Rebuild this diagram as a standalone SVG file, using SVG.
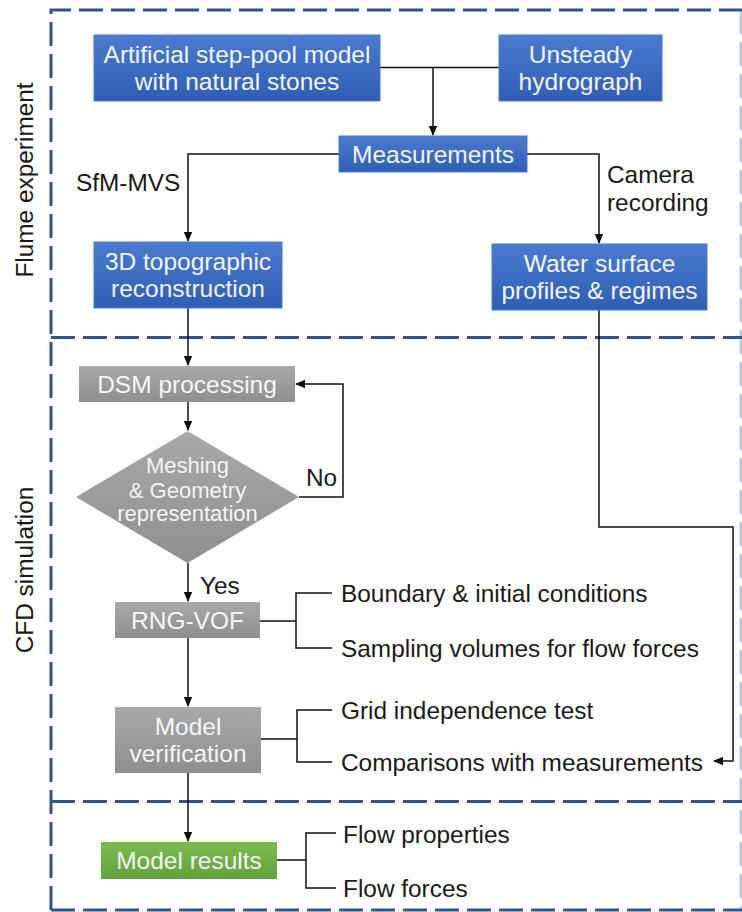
<svg xmlns="http://www.w3.org/2000/svg" width="742" height="912" viewBox="0 0 742 912">
<defs>
<linearGradient id="gBlue" x1="0" y1="0" x2="0" y2="1"><stop offset="0" stop-color="#4a7bd0"/><stop offset="1" stop-color="#2f5eb4"/></linearGradient>
<linearGradient id="gGray" x1="0" y1="0" x2="0" y2="1"><stop offset="0" stop-color="#a9a9a9"/><stop offset="1" stop-color="#8f8f8f"/></linearGradient>
<linearGradient id="gGreen" x1="0" y1="0" x2="0" y2="1"><stop offset="0" stop-color="#7dbb4f"/><stop offset="1" stop-color="#62a33a"/></linearGradient>
<marker id="arr" markerWidth="10" markerHeight="10" refX="9" refY="5" orient="auto" markerUnits="userSpaceOnUse"><path d="M0,0.8 L10,5 L0,9.2 Z" fill="#111"/></marker>
<style>
.frame{fill:none;stroke:#2f5490;stroke-width:3;stroke-dasharray:24 8}
.blue{fill:url(#gBlue);stroke:#4a7bd0;stroke-width:1}
.gray{fill:url(#gGray)}
.green{fill:url(#gGreen)}
.bt{font-family:"Liberation Sans",Arial,sans-serif;font-size:24.5px;fill:#f4f6fb;text-anchor:middle}
.dt{font-family:"Liberation Sans",Arial,sans-serif;font-size:22px;fill:#f4f4f4;text-anchor:middle}
.lt{font-family:"Liberation Sans",Arial,sans-serif;font-size:24.4px;fill:#1a1a1a}
.ln{fill:none;stroke:#111;stroke-width:1.5}
</style>
</defs>
<g id="frame">
<path class="frame" d="M51,910 V10 H742"/>
<path class="frame" d="M51,337.5 H742"/>
<path class="frame" d="M51,801.5 H742"/>
<path class="frame" d="M51,910 H742"/>
<path class="frame" d="M741,10 V910" stroke-opacity="0.3"/>
<text class="lt" transform="translate(33,180) rotate(-90)" text-anchor="middle">Flume experiment</text>
<text class="lt" transform="translate(33,570) rotate(-90)" text-anchor="middle">CFD simulation</text>
</g>
<g id="connectors">
<path class="ln" d="M380,67.5 H499"/>
<path class="ln" d="M433,67.5 V135" marker-end="url(#arr)"/>
<path class="ln" d="M339,154 H188 V241" marker-end="url(#arr)"/>
<path class="ln" d="M527,154 H599 V243" marker-end="url(#arr)"/>
<path class="ln" d="M188,308 V365" marker-end="url(#arr)"/>
<path class="ln" d="M599,310 V527 H733 V761 H714" marker-end="url(#arr)"/>
<path class="ln" d="M188,402 V430" marker-end="url(#arr)"/>
<path class="ln" d="M299,497 H343 V384 H296" marker-end="url(#arr)"/>
<path class="ln" d="M188,563 V601" marker-end="url(#arr)"/>
<path class="ln" d="M188,638 V706" marker-end="url(#arr)"/>
<path class="ln" d="M188,773 V841" marker-end="url(#arr)"/>
<path class="ln" d="M260,621 H296 M332,593 H296 V648 H332"/>
<path class="ln" d="M261,739 H297 M332,710 H297 V762 H332"/>
<path class="ln" d="M277,860 H306 M336,833 H306 V888 H336"/>
<text class="lt" x="76" y="191">SfM-MVS</text>
<text class="lt" x="607" y="183">Camera</text>
<text class="lt" x="607" y="211">recording</text>
<text class="lt" x="306" y="485.5">No</text>
<text class="lt" x="200" y="594">Yes</text>
</g>
<g id="n-artificial">
<rect class="blue" x="94" y="35" width="286" height="66"/>
<text class="bt" x="237" y="63">Artificial step-pool model</text>
<text class="bt" x="237" y="90">with natural stones</text>
</g>
<g id="n-hydrograph">
<rect class="blue" x="499" y="35" width="163" height="66"/>
<text class="bt" x="580.5" y="63">Unsteady</text>
<text class="bt" x="580.5" y="90">hydrograph</text>
</g>
<g id="n-measurements">
<rect class="blue" x="339" y="136" width="188" height="36"/>
<text class="bt" x="433" y="162.5">Measurements</text>
</g>
<g id="n-topographic">
<rect class="blue" x="94" y="242" width="188" height="66"/>
<text class="bt" x="188" y="270">3D topographic</text>
<text class="bt" x="188" y="297">reconstruction</text>
</g>
<g id="n-water">
<rect class="blue" x="492" y="244" width="215" height="66"/>
<text class="bt" x="599.5" y="272">Water surface</text>
<text class="bt" x="599.5" y="299">profiles &amp; regimes</text>
</g>
<g id="n-dsm">
<rect class="gray" x="79" y="366" width="216" height="36"/>
<text class="bt" x="187" y="392.5">DSM processing</text>
</g>
<g id="n-meshing">
<polygon class="gray" points="187.5,431 299,497 187.5,563 76,497"/>
<text class="dt" x="187.5" y="473">Meshing</text>
<text class="dt" x="187.5" y="498">&amp; Geometry</text>
<text class="dt" x="187.5" y="521">representation</text>
</g>
<g id="n-rngvof">
<rect class="gray" x="115" y="602" width="145" height="36"/>
<text class="bt" x="187.5" y="628.5">RNG-VOF</text>
</g>
<g id="n-verification">
<rect class="gray" x="115" y="707" width="146" height="66"/>
<text class="bt" x="188" y="735">Model</text>
<text class="bt" x="188" y="762">verification</text>
</g>
<g id="n-results">
<rect class="green" x="101" y="842" width="176" height="37"/>
<text class="bt" x="189" y="869">Model results</text>
</g>
<g id="n-boundary"><text class="lt" x="341" y="601.5">Boundary &amp; initial conditions</text></g>
<g id="n-sampling"><text class="lt" x="341" y="656.5">Sampling volumes for flow forces</text></g>
<g id="n-grid"><text class="lt" x="341" y="718.5">Grid independence test</text></g>
<g id="n-comparisons"><text class="lt" x="341" y="770.5">Comparisons with measurements</text></g>
<g id="n-flowprops"><text class="lt" x="343" y="842.5">Flow properties</text></g>
<g id="n-flowforces"><text class="lt" x="343" y="896.5">Flow forces</text></g>
</svg>
